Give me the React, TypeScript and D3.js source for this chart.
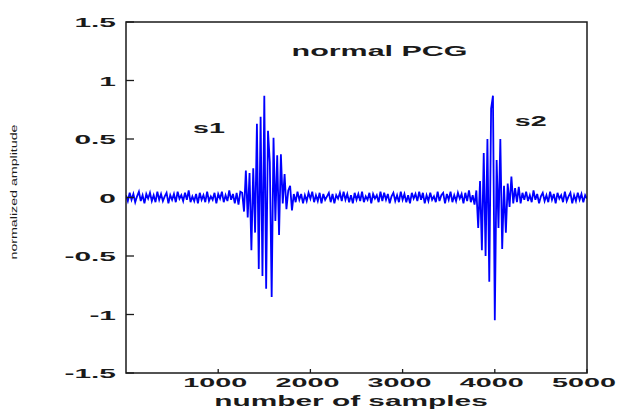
import React from "react";
import * as d3 from "d3";

// Normalised phonocardiogram, one value every SAMPLE_STEP samples (0 … 5000).
const SAMPLE_STEP = 20;

const restBeforeS1 = [
  0.02, -0.03, 0.04, -0.02, 0.03, -0.04, 0.01, 0.05, -0.03, 0.02,
  -0.05, 0.03, -0.01, 0.04, -0.03, 0.02, -0.04, 0.05, -0.02, 0.03,
  -0.03, 0.01, 0.04, -0.05, 0.02, -0.02, 0.03, -0.04, 0.05, -0.01,
  0.02, -0.03, 0.04, -0.02, 0.06, -0.04, 0.01, -0.03, 0.03, -0.05,
  0.04, -0.02, 0.02, -0.04, 0.05, -0.03, 0.01, -0.02, 0.04, -0.05,
  0.03, -0.01, 0.05, -0.04, 0.02, -0.03, 0.06, -0.02, 0.03, -0.05,
  0.04, -0.06, 0.05,
];

const s1Sound = [
  0.04, -0.12, 0.23, -0.17, 0.21, -0.45, 0.25, -0.3, 0.63, -0.61,
  0.69, -0.67, 0.87, -0.78, 0.57, 0.3, -0.85, 0.51, -0.2, 0.36,
  -0.32, 0.37, -0.05, 0.2, -0.1, 0.06, 0.1, -0.11, 0.03,
];

const systole = [
  -0.04, 0.05, -0.02, 0.03, -0.05, 0.02, -0.03, 0.04, -0.01, 0.05,
  -0.04, 0.02, -0.03, 0.04, -0.05, 0.03, -0.02, 0.01, 0.04, -0.04,
  0.03, -0.05, 0.02, -0.01, 0.04, -0.03, 0.05, -0.02, 0.03, -0.04,
  0.02, -0.05, 0.04, -0.02, 0.03, -0.03, 0.05, -0.04, 0.01, -0.02,
  0.04, -0.05, 0.03, -0.01, 0.02, -0.04, 0.05, -0.03, 0.04, -0.02,
  0.03, -0.05, 0.01, 0.04, -0.03, 0.02, -0.04, 0.05, -0.02, 0.03,
  -0.04, 0.02, -0.05, 0.04, -0.01, 0.03, -0.03, 0.05, -0.02, 0.04,
  -0.05, 0.02, -0.03, 0.04, -0.02, 0.01, -0.04, 0.05, -0.03, 0.02,
  0.04, -0.05, 0.03, -0.02, 0.05, -0.04, 0.02, -0.03, 0.04, -0.01,
  0.03, -0.05, 0.04, -0.03, 0.06, -0.04, 0.02, -0.06,
];

const s2Sound = [
  0.06, -0.26, 0.14, -0.45, 0.38, -0.5, 0.5, -0.72, 0.76, 0.87,
  -1.05, 0.32, -0.26, 0.5, -0.44, 0.1, -0.3, 0.12, -0.08, 0.18,
  -0.05, 0.08, -0.04, 0.09,
];

const restAfterS2 = [
  -0.05, 0.04, -0.02, 0.05, -0.03, 0.02, -0.04, 0.06, -0.02, 0.03,
  -0.05, 0.01, 0.04, -0.03, 0.02, -0.04, 0.05, -0.02, 0.03, -0.05,
  0.04, -0.01, 0.02, -0.04, 0.05, -0.03, 0.01, 0.04, -0.05, 0.02,
  -0.03, 0.04, -0.02, 0.03, -0.04, 0.02, -0.01,
];

const amplitude = [...restBeforeS1, ...s1Sound, ...systole, ...s2Sound, ...restAfterS2];

const xTicks = [1000, 2000, 3000, 4000, 5000];
const yTicks = [1.5, 1, 0.5, 0, -0.5, -1, -1.5];

const soundLabels = [
  { text: "s1", sample: 900, value: 0.55 },
  { text: "s2", sample: 4390, value: 0.61 },
];

const title = "normal PCG";
const xLabel = "number of samples";
const yLabel = "normalized amplitude";

const W = 629;
const H = 410;
const plot = { left: 126, right: 587, top: 22, bottom: 373 };
const FONT = "'Liberation Sans', Arial, Helvetica, sans-serif";
const INK = "#1a1a1a";

export default function App() {
  const x = d3.scaleLinear().domain([0, 5000]).range([plot.left, plot.right]);
  const y = d3.scaleLinear().domain([-1.5, 1.5]).range([plot.bottom, plot.top]);

  const path = d3
    .line<number>()
    .x((_, i) => x(i * SAMPLE_STEP))
    .y((v) => y(v))(amplitude);

  const stretched = (
    tx: number,
    ty: number,
    sx: number,
    text: string,
    size: number,
    anchor: "start" | "middle" | "end",
    key?: string
  ) => (
    <text
      key={key}
      transform={`translate(${tx},${ty}) scale(${sx},1)`}
      textAnchor={anchor}
      fontFamily={FONT}
      fontWeight="bold"
      fontSize={size}
      fill={INK}
    >
      {text}
    </text>
  );

  return (
    <svg
      width={W}
      height={H}
      style={{ position: "absolute", left: 0, top: 0, background: "#fff" }}
    >
      <defs>
        <clipPath id="plot-area">
          <rect
            x={plot.left}
            y={plot.top}
            width={plot.right - plot.left}
            height={plot.bottom - plot.top}
          />
        </clipPath>
      </defs>

      {/* signal */}
      <path
        d={path ?? ""}
        fill="none"
        stroke="#0000ff"
        strokeWidth={1.8}
        clipPath="url(#plot-area)"
      />

      {/* frame */}
      <rect
        x={plot.left}
        y={plot.top}
        width={plot.right - plot.left}
        height={plot.bottom - plot.top}
        fill="none"
        stroke={INK}
        strokeWidth={1.5}
      />

      {/* y ticks and labels */}
      {yTicks.map((t) => (
        <g key={`y${t}`}>
          <line
            x1={plot.left}
            x2={plot.left + 8}
            y1={y(t)}
            y2={y(t)}
            stroke={INK}
            strokeWidth={1.3}
          />
          {stretched(116, y(t) + 5, 2.3, String(t), 13, "end")}
        </g>
      ))}

      {/* x ticks and labels */}
      {xTicks.map((t) => (
        <g key={`x${t}`}>
          <line
            x1={x(t)}
            x2={x(t)}
            y1={plot.bottom}
            y2={plot.bottom - 4}
            stroke={INK}
            strokeWidth={1.3}
          />
          {stretched(x(t) - 3, 387, 2.4, String(t), 12, "middle")}
        </g>
      ))}

      {/* annotations */}
      {stretched((plot.left + plot.right) / 2 + 23, 56, 2.03, title, 15, "middle")}
      {soundLabels.map((s) =>
        stretched(x(s.sample), y(s.value), 2.05, s.text, 14, "middle", s.text)
      )}
      {stretched(351, 406, 1.99, xLabel, 15, "middle")}

      <text
        transform={`translate(17,192) rotate(-90)`}
        textAnchor="middle"
        fontFamily={FONT}
        fontSize={9}
        fill={INK}
        textLength={135}
        lengthAdjust="spacingAndGlyphs"
      >
        {yLabel}
      </text>
    </svg>
  );
}
